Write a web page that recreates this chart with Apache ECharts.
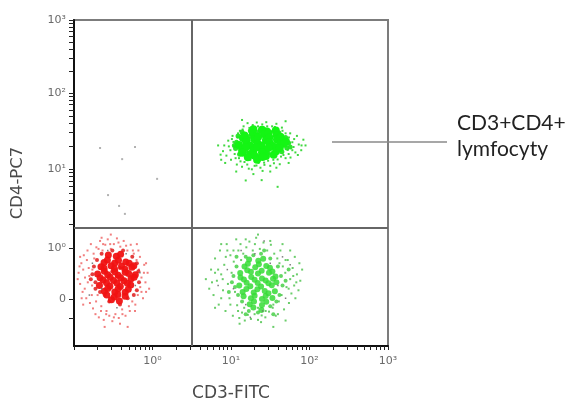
<!DOCTYPE html>
<html>
<head>
<meta charset="utf-8">
<script src="https://cdn.jsdelivr.net/npm/echarts@6/dist/echarts.min.js"></script>
<style>
html,body{margin:0;padding:0;background:#fff;}
#chart{width:574px;height:401px;}
</style>
</head>
<body>
<div id="chart"></div>
<script>
// ---- axis ticks (display channels 0..1024) ----
const xTickValues = [256, 512, 768, 1024];
const xTickLabels = ['10⁰', '10¹', '10²', '10³'];
const xDecades = [0, 256, 512, 768, 1024];
const yTickValues = [148, 308, 556, 795, 1024];
const yTickLabels = ['0', '10⁰', '10¹', '10²', '10³'];
const yDecades = [308, 556, 795, 1024];
const yLinearTicks = [88, 148];
const xAxisName = 'CD3-FITC';
const yAxisName = 'CD4-PC7';

// ---- quadrant gates (channels) ----
const gateX = 385;
const gateY = 372;

// ---- annotation ----
const calloutLines = ['CD3+CD4+', 'lymfocyty'];

// ---- events: CD3+CD4+ (upper right) ----
const g1Core = [
 [585,681],[613,679],[629,674],[658,677],
 [556,661],[583,669],[595,659],[621,665],[634,668],[661,663],[673,657],
 [551,653],[563,646],[588,650],[600,656],[626,646],[637,655],[662,649],[674,654],[691,642],
 [538,631],[562,640],[575,629],[599,635],[611,630],[636,639],[648,628],[672,634],[685,635],
 [548,616],[560,625],[585,614],[597,624],[622,613],[635,623],[659,612],[671,622],
 [549,607],[575,603],[588,598],[613,608],[626,597],[651,601],
 [567,593],[597,585],[615,594]
];
const g1Mid = [
 [530,640],[545,625],[556,645],[572,658],[590,643],[607,628],[625,660],[643,640],[665,628],[680,646],
 [700,638],[705,625],[690,655],[668,670],[640,671],[603,672],[575,676],[560,612],[580,600],[605,596],
 [632,606],[655,607],[678,610],[694,622],[540,602],[527,620],[523,630],[535,660],[548,672],[618,682]
];
const g1Halo = [
 [486,612],[497,598],[505,627],[512,585],[520,641],[524,603],[531,570],[534,655],[538,590],[541,676],
 [548,563],[553,690],[556,578],[561,640],[566,700],[570,557],[575,585],[583,694],[589,566],[596,702],
 [602,575],[608,560],[614,696],[621,569],[627,703],[633,582],[640,566],[646,690],[652,574],[660,698],
 [664,586],[671,571],[678,686],[683,600],[690,668],[697,616],[701,655],[706,592],[712,640],[716,625],
 [722,608],[727,660],[733,633],[741,615],[748,648],[503,645],[517,660],[493,575],[478,601],[529,548],
 [585,540],[640,548],[700,575],[560,520],[612,521],[664,500],[548,710],[690,706],[470,630],[755,630],
 [510,615],[522,628],[527,590],[543,580],[558,592],[565,570],[595,567],[620,576],[650,585],[675,595],
 [700,603],[712,615],[718,650],[705,668],[680,676],[655,688],[630,690],[600,690],[572,685],[550,680],
 [535,668],[515,650],[490,630],[480,585],[730,600],[742,630],[690,590],[615,550],[580,555],[660,560]
];

// ---- events: CD3+CD4- (lower right) ----
const g2Core = [
 [571,272],[601,268],[617,274],
 [556,250],[567,258],[591,247],[603,257],[627,251],[639,246],
 [542,229],[565,238],[577,233],[600,228],[612,236],[636,230],[647,234],
 [543,215],[554,209],[578,217],[589,208],[613,212],[625,206],[649,211],[657,218],
 [539,190],[563,199],[575,188],[599,198],[610,187],[634,197],[645,191],[660,200],
 [550,170],[562,179],[586,168],[598,178],[622,173],[634,166],[655,172],
 [553,156],[577,150],[589,158],[613,148],[625,157],[647,151],
 [573,131],[587,140],[613,129],[627,139],
 [585,121],[611,113]
];
const g2Mid = [
 [520,220],[525,185],[530,250],[535,160],[560,280],[585,285],[610,290],[640,275],[665,250],[675,220],
 [680,190],[670,160],[660,140],[640,125],[600,105],[570,110],[548,140],[515,200],[690,205],[650,100],
 [530,280],[700,240],[505,170],[620,300],[560,100]
];
const g2Halo = [
 [430,210],[441,180],[447,240],[455,160],[460,275],[466,205],[472,130],[476,300],[480,225],[486,175],
 [490,255],[494,110],[498,320],[502,195],[507,150],[510,285],[514,230],[518,95],[521,265],[525,170],
 [529,335],[532,128],[536,300],[539,88],[543,320],[548,105],[552,290],[557,80],[562,310],[567,98],
 [572,328],[577,85],[583,300],[589,100],[594,340],[600,82],[606,305],[612,96],[618,325],[624,90],
 [630,300],[636,108],[642,318],[648,120],[653,290],[658,95],[663,275],[668,140],[673,300],[677,160],
 [681,250],[685,115],[689,230],[693,185],[697,270],[701,135],[705,210],[709,165],[713,245],[718,190],
 [722,150],[727,225],[732,175],[738,205],[744,240],[705,300],[460,120],[480,320],[690,80],[650,60],
 [470,240],[485,210],[495,280],[510,130],[520,300],[535,110],[545,270],[555,120],[600,120],[625,110],
 [650,130],[670,260],[690,270],[700,180],[715,220],[725,200],[735,260],[480,150],[500,300],[590,320],
 [640,330],[560,335],[460,230],[450,200],[720,280],[665,100],[610,75],[540,70],[600,350],[680,320]
];

// ---- events: CD3- (lower left) ----
const rCore = [
 [112,286],[138,282],[152,288],
 [98,262],[109,270],[133,261],[145,269],[169,264],[180,260],
 [88,249],[98,244],[121,252],[132,243],[155,251],[166,241],[189,247],[195,252],
 [77,226],[99,235],[110,224],[133,233],[144,222],[167,232],[178,228],[200,224],
 [85,214],[95,207],[118,216],[129,206],[152,214],[163,205],[186,211],[196,216],
 [83,190],[106,199],[117,188],[140,198],[151,187],[174,197],[185,192],
 [99,172],[110,181],[133,170],[144,180],[167,169],[177,178],
 [107,160],[131,154],[143,162],[167,156],
 [122,145],[148,141]
];
const rMid = [
 [60,225],[65,250],[70,200],[75,270],[70,180],[90,290],[100,160],[125,300],[160,300],[190,280],
 [205,260],[210,235],[212,200],[205,175],[195,160],[175,150],[150,130],[115,140],[85,170],[55,210],
 [140,220],[125,235],[160,210],[105,230],[150,245]
];
const rHalo = [
 [15,230],[20,195],[24,260],[28,170],[32,285],[36,215],[40,150],[44,300],[48,245],[52,135],
 [55,320],[59,190],[62,118],[66,275],[70,100],[73,310],[77,160],[81,90],[85,330],[89,125],
 [93,300],[97,82],[102,318],[106,110],[110,335],[115,95],[120,305],[125,78],[130,320],[135,100],
 [140,338],[146,88],[151,312],[157,115],[162,330],[168,95],[174,300],[179,125],[185,318],[190,140],
 [195,290],[199,110],[204,270],[208,160],[212,240],[216,185],[220,215],[225,150],[229,255],[233,200],
 [60,240],[45,200],[30,130],[210,300],[240,230],[245,180],[175,60],[100,60],[120,350],[20,280],
 [30,240],[35,180],[42,270],[50,220],[58,160],[64,290],[72,140],[80,305],[88,110],[95,320],
 [105,100],[118,320],[130,90],[145,325],[158,100],[170,315],[182,110],[192,300],[200,130],[215,280],
 [220,170],[228,230],[235,260],[12,210],[18,250],[25,150],[205,320],[150,70],[90,340],[235,170]
];

// ---- dark specks and stray events ----
const specks = [
 [500,240],[520,180],[545,300],[560,130],[590,290],[615,110],[640,260],[665,190],[690,150],[705,255],
 [470,190],[620,330],[575,90],[680,280],
 [60,260],[90,180],[170,290],[200,190],[140,120],[110,300],[50,160],[215,230]
];
const strays = [[157,587],[271,525],[147,440],[166,415],[85,622],[199,625],[111,474]];

function logTicks(decades) {
  const t = [];
  for (let i = 0; i < decades.length - 1; i++) {
    const lo = decades[i], hi = decades[i + 1];
    t.push(lo);
    for (let m = 2; m <= 9; m++) t.push(lo + Math.log10(m) * (hi - lo));
  }
  t.push(decades[decades.length - 1]);
  return t;
}

const chart = echarts.init(document.getElementById('chart'), null, {renderer: 'canvas'});

function pts(name, data, color, size, symbol, opacity, z) {
  return {
    name: name, type: 'scatter', data: data, symbol: symbol, symbolSize: size,
    itemStyle: {color: color, opacity: opacity}, silent: true, animation: false, z: z
  };
}

const labelFont = {fontFamily: 'DejaVu Sans', fontSize: 11, color: '#6a6a6a'};

chart.setOption({
  animation: false,
  backgroundColor: '#ffffff',
  grid: {left: 74, right: 186, top: 20, bottom: 55, outerBoundsMode: 'none', containLabel: false,
         show: true, borderColor: '#7c7c7c', borderWidth: 2, backgroundColor: 'transparent'},
  xAxis: {
    type: 'value', min: 0, max: 1024,
    name: xAxisName, nameLocation: 'middle', nameGap: 39,
    nameTextStyle: {fontFamily: 'DejaVu Sans', fontSize: 17, color: '#4a4a4a'},
    axisLine: {show: true, lineStyle: {color: '#111', width: 2}},
    axisTick: {show: true, customValues: logTicks(xDecades), length: 4, lineStyle: {color: '#222', width: 1}},
    axisLabel: Object.assign({
      customValues: xTickValues, margin: 10, showMaxLabel: true,
      formatter: v => xTickLabels[xTickValues.indexOf(v)] || ''
    }, labelFont),
    splitLine: {show: false}
  },
  yAxis: {
    type: 'value', min: 0, max: 1024,
    name: yAxisName, nameLocation: 'middle', nameGap: 48, nameRotate: 90,
    nameTextStyle: {fontFamily: 'DejaVu Sans', fontSize: 16.5, color: '#4a4a4a'},
    axisLine: {show: true, lineStyle: {color: '#111', width: 2}},
    axisTick: {show: true, customValues: yLinearTicks.concat(logTicks(yDecades)), length: 5, lineStyle: {color: '#222', width: 1}},
    axisLabel: Object.assign({
      customValues: yTickValues, margin: 8, showMaxLabel: true,
      formatter: v => yTickLabels[yTickValues.indexOf(v)] || ''
    }, labelFont),
    splitLine: {show: false}
  },
  series: [
    pts('strays', strays, '#a8a8a8', 2, 'rect', 0.9, 2),
    pts('g1Halo', g1Halo, '#2bd42b', 2, 'rect', 0.9, 3),
    pts('g1Mid', g1Mid, '#22e622', 5, 'circle', 0.95, 4),
    pts('g1Core', g1Core, '#14f514', 8, 'circle', 1, 5),
    pts('g2Halo', g2Halo, '#5ac85a', 2, 'rect', 0.9, 3),
    pts('g2Mid', g2Mid, '#48d048', 4, 'circle', 0.85, 4),
    pts('g2Core', g2Core, '#36dc36', 6, 'circle', 0.85, 5),
    pts('rHalo', rHalo, '#ef7070', 2, 'rect', 0.9, 3),
    pts('rMid', rMid, '#e02828', 4, 'circle', 0.9, 4),
    pts('rCore', rCore, '#f01212', 7, 'circle', 0.95, 5),
    pts('specks', specks, '#6e6e6e', 1.5, 'rect', 0.9, 6),
    {
      name: 'gates', type: 'scatter', data: [], silent: true, z: 7,
      markLine: {
        silent: true, symbol: 'none', animation: false,
        label: {show: false},
        lineStyle: {color: '#666666', width: 2, type: 'solid'},
        data: [{xAxis: gateX}, {yAxis: gateY}]
      }
    }
  ],
  graphic: [
    {type: 'line', shape: {x1: 332, y1: 142, x2: 447, y2: 142}, style: {stroke: '#8a8a8a', lineWidth: 1.5}, z: 10},
    {type: 'text', left: 457, top: 113, style: {text: calloutLines[0], font: '21px Lato', fill: '#222'}, z: 10},
    {type: 'text', left: 457, top: 139, style: {text: calloutLines[1], font: '21px Lato', fill: '#222'}, z: 10}
  ]
});
</script>
</body>
</html>
